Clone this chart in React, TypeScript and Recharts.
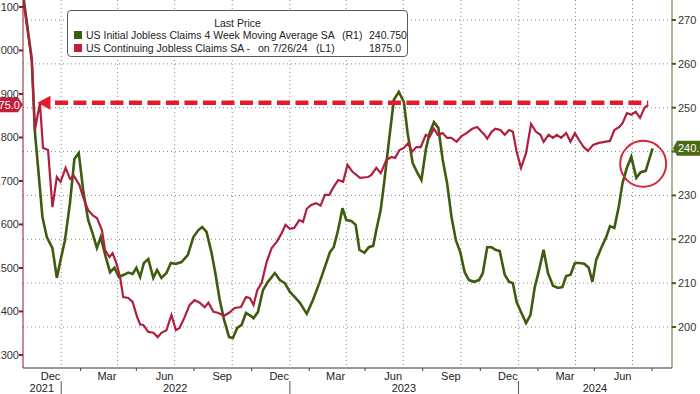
import React from 'react';
import { LineChart, Line, XAxis, YAxis, CartesianGrid, ReferenceLine, ReferenceDot } from 'recharts';

// x values are days counted from 2021-11-01
const START = Date.UTC(2021, 10, 1);
const toDay = (iso: string) => Math.round((Date.parse(iso + 'T00:00:00Z') - START) / 86400000);

// US Continuing Jobless Claims SA (thousands, left axis)
const continuingDays = [
  0, 14, 19, 27, 32, 40, 47, 54, 60, 68,
  75, 81, 90, 96, 104, 112, 118, 126, 131, 138,
  143, 149, 155, 160, 168, 175, 182, 187, 192, 200,
  208, 215, 221, 229, 237, 244, 250, 258, 266, 274,
  282, 290, 296, 304, 311, 321, 329, 338, 348, 356,
  362, 368, 374, 381, 389, 397, 405, 413, 419, 426,
  433, 441, 447, 453, 460, 468, 475, 482, 489, 495,
  503, 511, 518, 526, 538, 551, 556, 564, 571, 580,
  588, 594, 601, 608, 615, 621, 628, 635, 643, 649,
  656, 662, 670, 677, 684, 692, 700, 708, 717, 725,
  732, 737, 741, 748, 754, 762, 769, 776, 782, 788,
  795, 803, 811, 819, 826, 831, 839, 846, 852, 859,
  867, 874, 881, 888, 895, 902, 910, 918, 928, 937,
  944, 952, 957, 964, 971, 978, 985, 992, 998,
];
const continuingValues = [
  2120, 1978, 1817, 1879, 1776, 1771, 1640, 1709, 1698, 1730,
  1705, 1712, 1691, 1663, 1633, 1620, 1615, 1587, 1541, 1525,
  1534, 1511, 1479, 1433, 1431, 1422, 1388, 1370, 1369, 1353,
  1351, 1341, 1351, 1357, 1392, 1357, 1362, 1387, 1415, 1426,
  1420, 1410, 1420, 1399, 1397, 1390, 1397, 1408, 1410, 1433,
  1431, 1415, 1449, 1466, 1514, 1546, 1560, 1580, 1599, 1590,
  1592, 1610, 1606, 1636, 1645, 1649, 1643, 1668, 1668, 1684,
  1702, 1698, 1737, 1721, 1707, 1709, 1714, 1730, 1718, 1748,
  1755, 1753, 1771, 1776, 1787, 1767, 1778, 1778, 1806, 1801,
  1820, 1806, 1810, 1799, 1799, 1790, 1803, 1810, 1820, 1824,
  1813, 1806, 1797, 1813, 1820, 1817, 1806, 1817, 1813, 1767,
  1730, 1764, 1831, 1813, 1806, 1790, 1806, 1799, 1806, 1799,
  1810, 1790, 1810, 1793, 1778, 1769, 1783, 1787, 1790, 1792,
  1817, 1824, 1833, 1856, 1852, 1859, 1845, 1868, 1875,
];

// US Initial Jobless Claims 4 Week Moving Average SA (thousands, right axis)
const initialDays = [
  0, 14, 19, 24, 31, 38, 47, 54, 60, 67,
  75, 82, 89, 96, 104, 111, 118, 124, 132, 139,
  146, 153, 161, 168, 175, 181, 187, 193, 200, 208,
  214, 221, 229, 236, 244, 253, 263, 272, 280, 286,
  293, 301, 307, 314, 321, 329, 335, 342, 349, 356,
  364, 368, 375, 383, 391, 402, 410, 418, 426, 434,
  442, 453, 463, 473, 482, 490, 496, 503, 510, 516,
  524, 531, 537, 545, 552, 559, 564, 571, 577, 584,
  592, 600, 608, 614, 622, 629, 636, 643, 649, 656,
  663, 670, 677, 684, 691, 698, 705, 712, 720, 728,
  734, 741, 748, 754, 761, 769, 776, 782, 788, 795,
  803, 810, 817, 823, 831, 838, 846, 854, 861, 867,
  874, 881, 888, 896, 903, 909, 915, 923, 931, 937,
  944, 951, 957, 964, 971, 979, 986, 994, 1005,
];
const initialValues = [
  276, 261, 244.5, 236.5, 225.1, 220.5, 218, 211.2, 215.3, 219.8,
  228.3, 238.3, 239.7, 231.2, 224.4, 221.4, 218, 220.5, 216, 212.5,
  213.5, 211.4, 211.9, 212.4, 212.1, 213.5, 211.4, 214.6, 215.5, 211.2,
  213, 211.2, 212.3, 214.6, 214.4, 214.8, 216.4, 220.5, 222.1, 222.8,
  221.7, 216.9, 212.3, 206.2, 201.6, 197.7, 197.5, 199.8, 200.5, 203.2,
  202.5, 202, 203.4, 208.4, 210.3, 212.3, 210.7, 210, 208, 206.8,
  205.5, 203, 206.2, 210, 213.7, 217.1, 218.2, 222.1, 227.1, 224.4,
  224.2, 223.3, 217.6, 216.9, 218.2, 218.5, 222.1, 226.7, 233.5, 242.2,
  251.8, 253.6, 251.3, 244.2, 237.4, 235.3, 233.5, 240.4, 244.2, 246.7,
  245.4, 238.1, 232.8, 225.1, 219.8, 217.1, 212.5, 210.7, 210.3, 210.7,
  212.3, 218.2, 218.2, 217.6, 217.3, 211.9, 210.3, 210, 205.7, 203.4,
  200.9, 202.7, 209.1, 212.5, 217.6, 212.3, 209.4, 208.9, 209.1, 211.6,
  211.9, 214.6, 214.6, 214.4, 213.5, 210.3, 215.3, 218, 220.5, 223,
  222.6, 227.4, 232.8, 236.3, 238.8, 234, 235.3, 235.6, 240.75,
];

// axis ticks and labels
const leftTicks = [1300, 1400, 1500, 1600, 1700, 1800, 1900, 2000, 2100];
const rightTicks = [200, 210, 220, 230, 240, 250, 260, 270];
const monthLabels = ['Dec', 'Mar', 'Jun', 'Sep', 'Dec', 'Mar', 'Jun', 'Sep', 'Dec', 'Mar', 'Jun'];
const monthLabelDates = ['2021-12-15', '2022-03-15', '2022-06-15', '2022-09-15', '2022-12-15', '2023-03-15', '2023-06-15', '2023-09-15', '2023-12-15', '2024-03-15', '2024-06-15'];
const minorTickDates = ['2022-02-01', '2022-05-01', '2022-08-01', '2022-11-01', '2023-02-01', '2023-05-01', '2023-08-01', '2023-11-01', '2024-02-01', '2024-05-01', '2024-08-01'];
const quarterDates = ['2022-01-01', '2022-04-01', '2022-07-01', '2022-10-01', '2023-01-01', '2023-04-01', '2023-07-01', '2023-10-01', '2024-01-01', '2024-04-01', '2024-07-01'];
const yearBoundaryDates = ['2022-01-01', '2023-01-01', '2024-01-01'];
const yearLabels = ['2021', '2022', '2023', '2024'];
const yearLabelDates = ['2021-12-01', '2022-07-02', '2023-07-02', '2024-05-02'];

const lastContinuing = 1875.0;
const lastInitial = 240.75;
const dashLevel = 1880;
// right-axis tick whose label sits under the last-value tag
const coveredRightTick = 240;

const continuingData = continuingDays.map((d, i) => ({ d, v: continuingValues[i] }));
const initialData = initialDays.map((d, i) => ({ d, v: initialValues[i] }));
const monthLabelDays = monthLabelDates.map(toDay);
const minorDays = minorTickDates.map(toDay);
const quarterDays = quarterDates.map(toDay);
const yearBoundaryDays = yearBoundaryDates.map(toDay);
const yearLabelDays = yearLabelDates.map(toDay);

const FONT = "'Liberation Sans Narrow', 'Liberation Sans', Arial, sans-serif";
const GREEN = '#3d5c0e';
const RED = '#b11f3e';

const MonthTick = (props: any) => {
  const { x, y, payload } = props;
  const idx = monthLabelDays.indexOf(payload.value);
  if (idx >= 0) {
    return (
      <text x={x} y={y + 12} textAnchor="middle" fontSize={11} fontFamily={FONT} fill="#222">
        {monthLabels[idx]}
      </text>
    );
  }
  return <line x1={x} y1={y} x2={x} y2={y + 3} stroke="#444" strokeWidth={1} />;
};

const YearTick = (props: any) => {
  const { x, y, payload } = props;
  const idx = yearLabelDays.indexOf(payload.value);
  if (idx >= 0) {
    return (
      <text x={x} y={y + 11} textAnchor="middle" fontSize={11} fontFamily={FONT} fill="#222">
        {yearLabels[idx]}
      </text>
    );
  }
  return <line x1={x} y1={y} x2={x} y2={y + 14} stroke="#555" strokeWidth={1} />;
};

const RightTick = (props: any) => {
  const { x, y, payload } = props;
  if (payload.value === coveredRightTick) return <g />;
  return (
    <text x={x} y={y + 4} textAnchor="start" fontSize={11} fontFamily={FONT} fill="#333">
      {payload.value}
    </text>
  );
};

const LeftValueTag = (props: any) => {
  const { cx, cy } = props;
  return (
    <g>
      <path d={`M${cx - 45},${cy - 7.5} H${cx - 5} L${cx},${cy} L${cx - 5},${cy + 7.5} H${cx - 45} Z`} fill="#c41c3a" />
      <text x={cx - 3} y={cy + 4} textAnchor="end" fontSize={11} fontFamily="'Liberation Sans', Arial, sans-serif" fill="#fff">
        {lastContinuing.toFixed(1)}
      </text>
    </g>
  );
};

const RightValueTag = (props: any) => {
  const { cx, cy } = props;
  return (
    <g>
      <path d={`M${cx + 1},${cy} L${cx + 5},${cy - 7.5} H${cx + 50} V${cy + 7.5} H${cx + 5} Z`} fill="#4a6a16" />
      <text x={cx + 6} y={cy + 4} textAnchor="start" fontSize={11} fontFamily="'Liberation Sans', Arial, sans-serif" fill="#fff">
        {lastInitial.toFixed(3)}
      </text>
    </g>
  );
};

const ArrowHead = (props: any) => {
  const { cx, cy } = props;
  return <path d={`M${cx},${cy} L${cx + 13},${cy - 7} L${cx + 13},${cy + 7} Z`} fill="#e3192d" />;
};

const legendFont: React.CSSProperties = {
  position: 'absolute',
  fontFamily: "'Liberation Sans', Arial, sans-serif",
  fontSize: 10.5,
  color: '#222',
  whiteSpace: 'nowrap',
  lineHeight: '12px',
};

export default function App() {
  return (
    <div style={{ position: 'absolute', left: 0, top: 0, width: 700, height: 394, overflow: 'hidden', background: '#fff' }}>
      <LineChart width={700} height={394} data={initialData} margin={{ top: 0, right: 0, bottom: 0, left: 0 }}>
        <CartesianGrid
          xAxisId="m"
          yAxisId="R"
          horizontalValues={rightTicks}
          verticalValues={quarterDays}
          stroke="#8a8a8a"
          strokeDasharray="1 3"
        />
        <XAxis
          xAxisId="m"
          type="number"
          dataKey="d"
          domain={[0, 1036]}
          allowDataOverflow
          ticks={[...minorDays, ...monthLabelDays].sort((a, b) => a - b)}
          interval={0}
          height={13}
          tickSize={0}
          tickMargin={0}
          tickLine={false}
          axisLine={{ stroke: '#333' }}
          tick={<MonthTick />}
        />
        <XAxis
          xAxisId="y"
          type="number"
          dataKey="d"
          domain={[0, 1036]}
          allowDataOverflow
          ticks={[...yearBoundaryDays, ...yearLabelDays].sort((a, b) => a - b)}
          interval={0}
          height={13}
          tickSize={0}
          tickMargin={0}
          tickLine={false}
          axisLine={false}
          tick={<YearTick />}
        />
        <YAxis
          yAxisId="L"
          orientation="left"
          width={23}
          domain={[1270, 2116]}
          allowDataOverflow
          ticks={leftTicks}
          interval={0}
          tickSize={4}
          tickMargin={0}
          axisLine={{ stroke: '#8b1a2b' }}
          tickLine={{ stroke: '#8b1a2b', strokeWidth: 2 }}
          tick={{ fontSize: 11, fill: '#333', fontFamily: FONT }}
        />
        <YAxis
          yAxisId="R"
          orientation="right"
          width={28}
          domain={[190.65, 274.56]}
          allowDataOverflow
          ticks={rightTicks}
          interval={0}
          tickSize={4}
          tickMargin={2}
          axisLine={{ stroke: '#5b6e2a' }}
          tickLine={{ stroke: '#4a6016', strokeWidth: 2 }}
          tick={<RightTick />}
        />
        <Line
          data={initialData}
          xAxisId="m"
          yAxisId="R"
          dataKey="v"
          type="linear"
          stroke={GREEN}
          strokeWidth={2.6}
          dot={false}
          activeDot={false}
          isAnimationActive={false}
        />
        <Line
          data={continuingData}
          xAxisId="m"
          yAxisId="L"
          dataKey="v"
          type="linear"
          stroke={RED}
          strokeWidth={2.2}
          dot={false}
          activeDot={false}
          isAnimationActive={false}
        />
        <ReferenceLine
          xAxisId="m"
          yAxisId="L"
          segment={[{ x: 51, y: dashLevel }, { x: 998, y: dashLevel }]}
          stroke="#e3192d"
          strokeWidth={4.5}
          strokeDasharray="13 5.5"
          ifOverflow="visible"
        />
        <ReferenceDot xAxisId="m" yAxisId="L" x={23} y={dashLevel} r={1} shape={<ArrowHead />} ifOverflow="visible" />
        <ReferenceDot xAxisId="m" yAxisId="R" x={990} y={237.2} r={23} fill="none" stroke="#d22b3b" strokeWidth={2} ifOverflow="visible" />
        <ReferenceDot xAxisId="m" yAxisId="L" x={0} y={lastContinuing} r={1} shape={<LeftValueTag />} ifOverflow="visible" />
        <ReferenceDot xAxisId="m" yAxisId="R" x={1036} y={lastInitial} r={1} shape={<RightValueTag />} ifOverflow="visible" />
      </LineChart>
      <div
        style={{
          position: 'absolute',
          left: 67,
          top: 10,
          width: 341,
          height: 47,
          border: '1px solid #5a5a5a',
          borderRadius: 4,
          background: '#fff',
          boxSizing: 'border-box',
        }}
      >
        <div style={{ ...legendFont, left: 0, width: 339, textAlign: 'center', top: 6 }}>Last Price</div>
        <div style={{ position: 'absolute', left: 6, top: 20, width: 8, height: 8, background: '#3d5c0e' }} />
        <div style={{ position: 'absolute', left: 6, top: 33, width: 8, height: 8, background: '#c41c3a' }} />
        <div style={{ ...legendFont, left: 18, top: 18 }}>US Initial Jobless Claims 4 Week Moving Average SA</div>
        <div style={{ ...legendFont, left: 274, top: 18 }}>(R1)</div>
        <div style={{ ...legendFont, left: 301, top: 18 }}>{lastInitial.toFixed(3)}</div>
        <div style={{ ...legendFont, left: 18, top: 31 }}>US Continuing Jobless Claims SA -</div>
        <div style={{ ...legendFont, left: 190, top: 31 }}>on 7/26/24</div>
        <div style={{ ...legendFont, left: 248, top: 31 }}>(L1)</div>
        <div style={{ ...legendFont, left: 301, top: 31 }}>{lastContinuing.toFixed(1)}</div>
      </div>
    </div>
  );
}
